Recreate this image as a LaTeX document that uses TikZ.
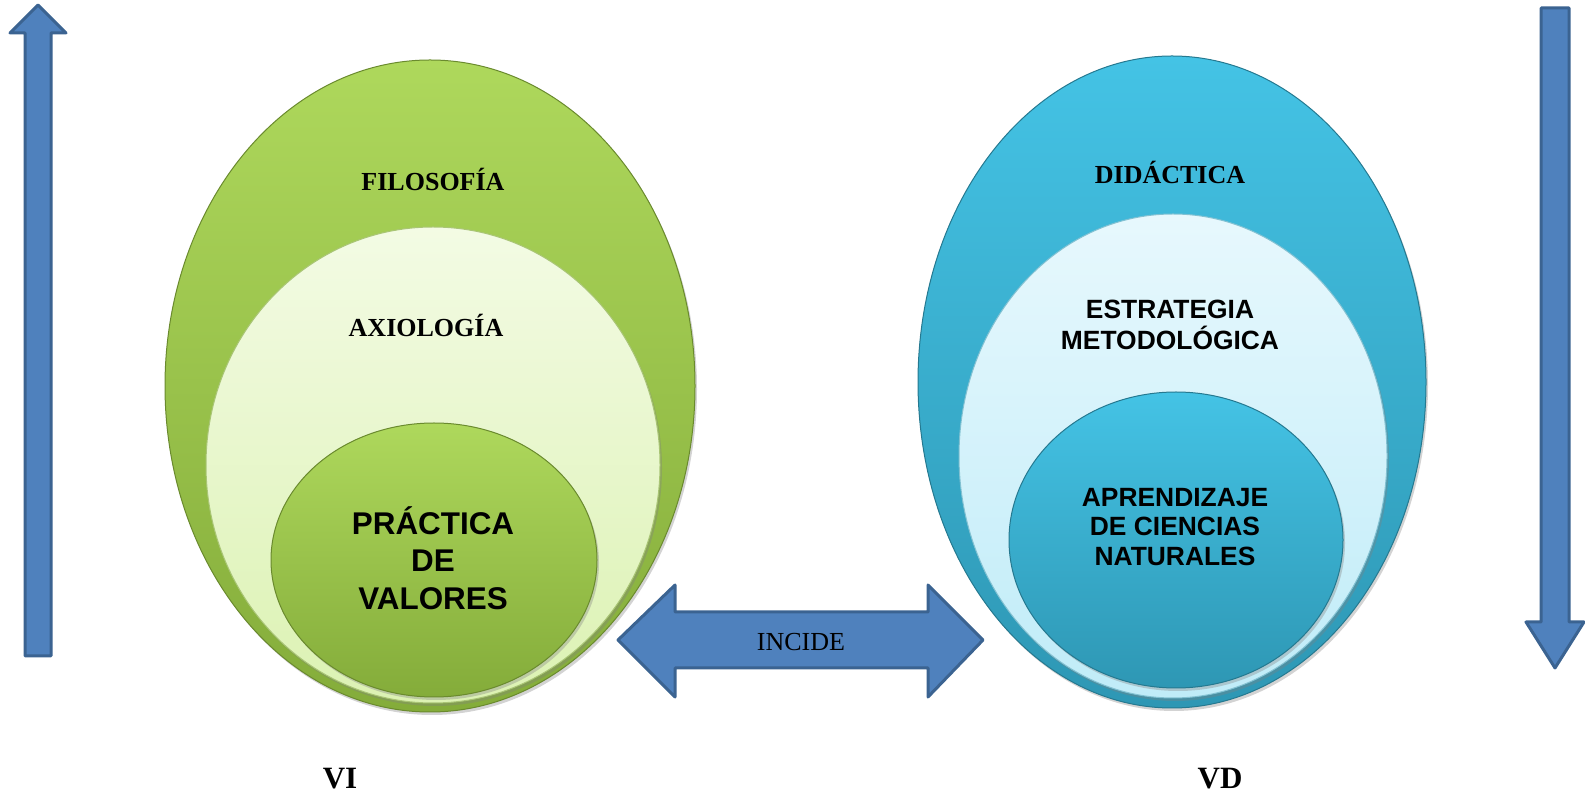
\documentclass[tikz,border=0pt]{standalone}
\usepackage{fontspec}
\setmainfont{Liberation Serif}
\newfontfamily\arialfont{Liberation Sans}
\usetikzlibrary{shapes.geometric,shadows}

\definecolor{verdeA}{HTML}{AED85C}
\definecolor{verdeB}{HTML}{84AC3A}
\definecolor{verdeC}{HTML}{F3FBE4}
\definecolor{verdeD}{HTML}{DCF2B3}
\definecolor{azulA}{HTML}{44C3E5}
\definecolor{azulB}{HTML}{2E97B4}
\definecolor{azulC}{HTML}{E7F8FD}
\definecolor{azulD}{HTML}{C0ECF8}
\definecolor{flecha}{HTML}{4F81BD}
\definecolor{flechaborde}{HTML}{3B6391}

\begin{document}
\begin{tikzpicture}[x=0.5pt,y=-0.5pt,
    oval/.style={ellipse,inner sep=0pt,line width=0.5pt,
      drop shadow={opacity=0.35,shadow xshift=1pt,shadow yshift=-1.5pt}},
    verde/.style={oval,draw=verdeB!80!black,top color=verdeA,bottom color=verdeB},
    verdeclaro/.style={oval,draw=verdeB!70!white,top color=verdeC,bottom color=verdeD},
    azul/.style={oval,draw=azulB!80!black,top color=azulA,bottom color=azulB},
    azulclaro/.style={oval,draw=azulB!60!white,top color=azulC,bottom color=azulD},
    flechas/.style={fill=flecha,draw=flechaborde,line width=1.5pt,line join=round},
    titulo/.style={font=\fontsize{13}{15.6}\selectfont\bfseries},
    caja/.style={align=center,inner sep=0pt,font=\arialfont\fontsize{13.2}{15.7}\selectfont\bfseries},
    var/.style={font=\fontsize{15.5}{18}\selectfont\bfseries}]
    \useasboundingbox (0,0) rectangle (1585,795);

    % flechas laterales
    \draw[flechas] (38,5) -- (10,33) -- (25,33) -- (25,656) -- (51,656) -- (51,33) -- (66,33) -- cycle;
    \draw[flechas] (1541,8) -- (1569,8) -- (1569,622) -- (1584,622) -- (1555,668) -- (1526,622) -- (1541,622) -- cycle;

    % VI
    \node[verde, minimum width=265pt, minimum height=326pt] (filo) at (430,386) {};
    \node[verdeclaro, minimum width=227pt, minimum height=238pt] (axio) at (433,465) {};
    \node[verde, minimum width=163pt, minimum height=137pt] (prac) at (434,560) {};
    \node[titulo] (filosofia) at (433,179) {FILOSOFÍA};
    \node[titulo] (axiologia) at (426,325) {AXIOLOGÍA};
    \node[caja, font=\arialfont\fontsize{15.7}{18.7}\selectfont\bfseries] (practica) at (433,558) {PRÁCTICA\\DE\\VALORES};

    % VD
    \node[azul, minimum width=254pt, minimum height=326pt] (dida) at (1172,382) {};
    \node[azulclaro, minimum width=214pt, minimum height=242pt] (estr) at (1173,456) {};
    \node[azul, minimum width=167pt, minimum height=148pt] (apre) at (1176,540) {};
    \node[titulo] (didactica) at (1170,172) {DIDÁCTICA};
    \node[caja] (estrategia) at (1170,325) {ESTRATEGIA\\METODOLÓGICA};
    \node[caja, font=\arialfont\fontsize{13.2}{14.7}\selectfont\bfseries] (aprendizaje) at (1175,527) {APRENDIZAJE\\DE CIENCIAS\\NATURALES};

    % flecha doble
    \draw[flechas] (618,640) -- (675,585) -- (675,612) -- (928,612) -- (928,585) -- (983,640) -- (928,697) -- (928,668) -- (675,668) -- (675,697) -- cycle;
    \node[font=\fontsize{13}{15.6}\selectfont] (incide) at (801,642) {INCIDE};

    \node[var] (vi) at (340,779) {VI};
    \node[var] (vd) at (1220,779) {VD};
\end{tikzpicture}
\end{document}
